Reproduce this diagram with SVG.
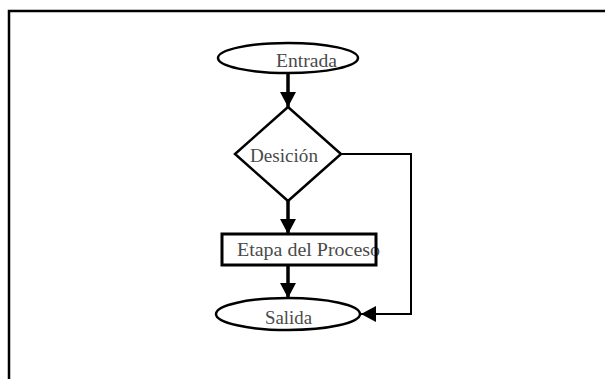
<svg xmlns="http://www.w3.org/2000/svg" width="605" height="379" viewBox="0 0 605 379">
<style>
.shape{fill:#fff;stroke:#000;stroke-width:2.5}
.lbl{font-family:"Liberation Serif","Times New Roman",serif;font-size:18px;fill:#4a4a4a}
.main{fill:none;stroke:#000;stroke-width:3.5}
.thin{fill:none;stroke:#000;stroke-width:2}
</style>
<defs>
<marker id="ah" markerUnits="userSpaceOnUse" markerWidth="17" markerHeight="17" refX="15" refY="8" orient="auto">
<path d="M0,0 L15,8 L0,16 z" fill="#000"/>
</marker>
</defs>
<rect x="0" y="0" width="605" height="379" fill="#fff"/>
<rect id="frame" x="9" y="11" width="620" height="400" fill="none" stroke="#000" stroke-width="2.5"/>
<g id="connectors">
<line class="main" x1="288" y1="73" x2="288" y2="107" marker-end="url(#ah)"/>
<line class="main" x1="288" y1="201" x2="288" y2="234" marker-end="url(#ah)"/>
<line class="main" x1="288" y1="265" x2="288" y2="298" marker-end="url(#ah)"/>
<polyline class="thin" points="341,154 411,154 411,314 361,314" marker-end="url(#ah)"/>
</g>
<g id="entrada">
<ellipse class="shape" cx="288" cy="58" rx="70" ry="15"/>
<text class="lbl" x="276" y="67" textLength="61" lengthAdjust="spacingAndGlyphs">Entrada</text>
</g>
<g id="desicion">
<polygon class="shape" points="288,107 341,154 288,201 235,154"/>
<text class="lbl" x="250" y="162" textLength="68" lengthAdjust="spacingAndGlyphs">Desición</text>
</g>
<g id="proceso">
<rect x="222" y="234" width="154" height="31" fill="#fff"/>
<text class="lbl" x="237" y="256" textLength="143" lengthAdjust="spacingAndGlyphs">Etapa del Proceso</text>
<rect x="222" y="234" width="154" height="31" fill="none" stroke="#000" stroke-width="3"/>
</g>
<g id="salida">
<ellipse class="shape" cx="288" cy="314" rx="72" ry="16"/>
<text class="lbl" x="265" y="324" textLength="47" lengthAdjust="spacingAndGlyphs">Salida</text>
</g>
</svg>
